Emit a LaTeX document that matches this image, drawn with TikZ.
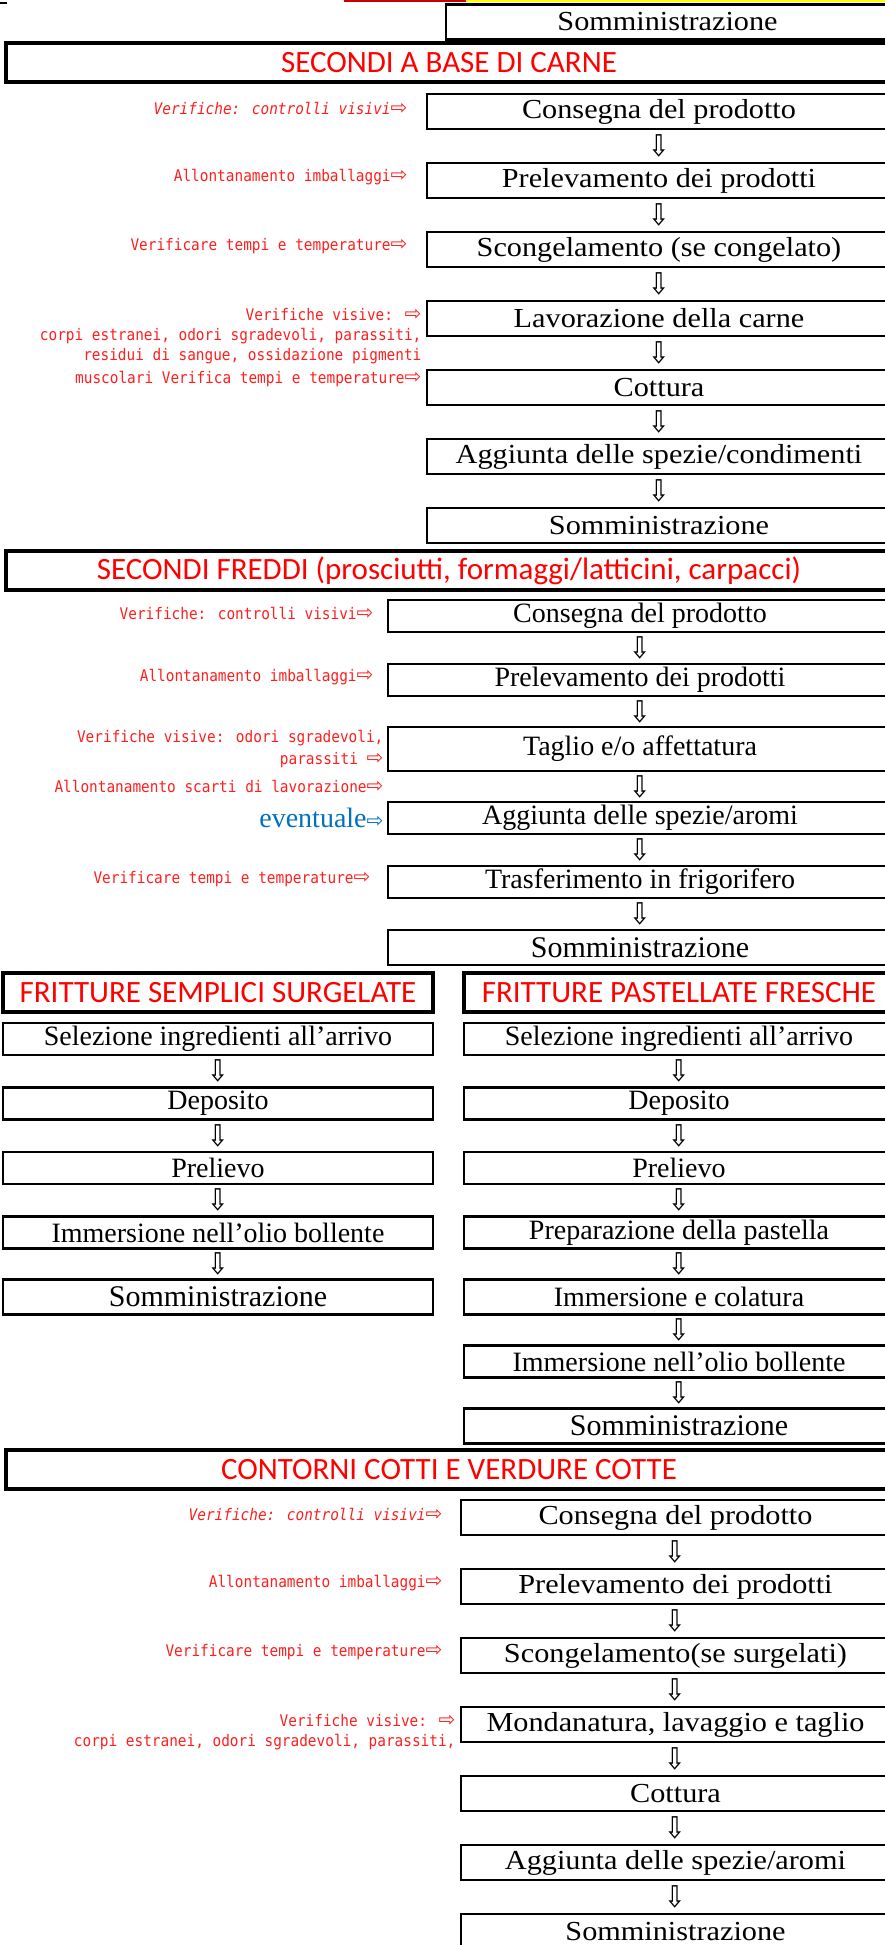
\documentclass[tikz,border=0pt]{standalone}
\usepackage{fontspec}
\setmainfont{Liberation Serif}
\newfontfamily\headfont{Carlito}
\newfontfamily\notefont[FakeStretch=0.9]{DejaVu Sans Mono}
\newfontfamily\symbfont{DejaVu Sans}
\newfontfamily\downfont[FakeStretch=0.85]{DejaVu Sans}
\newfontfamily\widefont[FakeStretch=1.1]{Liberation Serif}
\usetikzlibrary{positioning}

\definecolor{headred}{RGB}{255,0,0}
\definecolor{notered}{RGB}{255,30,30}
\definecolor{noteblue}{RGB}{0,112,192}
\definecolor{barred}{RGB}{200,0,0}
\definecolor{baryellow}{RGB}{255,255,0}

\newcommand{\ra}{{\symbfont\fontsize{20}{20}\selectfont ⇨}}
\newcommand{\da}{{\downfont ⇩}}

\tikzset{
  stepbox/.style={draw, line width=2.8pt, inner sep=0pt, minimum height=35pt,
    font=\widefont\fontsize{27.5}{30}\selectfont},
  stepthin/.style={stepbox, minimum height=32pt, font=\fontsize{28}{30}\selectfont},
  carnestep/.style={stepbox, minimum width=464pt},
  freddostep/.style={stepthin, minimum width=504pt},
  fritstep/.style={stepthin, minimum width=430pt},
  contornostep/.style={stepbox, minimum width=429pt},
  lastthin/.style={minimum height=35pt, font=\fontsize{30}{32}\selectfont},
  headbox/.style={draw, line width=4pt, inner sep=0pt, minimum width=886pt, minimum height=39pt,
    text=headred, font=\headfont\fontsize{31}{33}\selectfont},
  fritbox/.style={headbox, line width=3.2pt, minimum width=430pt},
  note/.style={text=notered, inner sep=0pt, align=right, font=\notefont\fontsize{16}{20}\selectfont},
  noteit/.style={note, font=\notefont\itshape\fontsize{16}{20}\selectfont},
  evnote/.style={text=noteblue, inner sep=0pt, font=\fontsize{28}{30}\selectfont},
  dn/.style={inner sep=0pt, font=\fontsize{30}{30}\selectfont},
}

\begin{document}
\begin{tikzpicture}[x=1pt, y=-1pt, node distance=69pt]
\useasboundingbox (0,0) rectangle (885,1945);
\clip (0,0) rectangle (885,1945);

% top of the page
\draw[line width=2pt] (0,3) -- (7,3);
\draw[barred, line width=2pt] (344,1) -- (466,1);
\draw[baryellow, line width=2pt] (466,1) -- (885,1);
\node[stepbox, minimum width=443pt] (s0) at (667.5,22) {Somministrazione};

% secondi a base di carne
\node[headbox] (carne) at (449,63) {SECONDI A BASE DI CARNE};
\node[carnestep] (c1) at (659,111.5) {Consegna del prodotto};
\node[carnestep, below of=c1] (c2) {Prelevamento dei prodotti};
\node[carnestep, below of=c2] (c3) {Scongelamento (se congelato)};
\node[carnestep, below of=c3] (c4) {Lavorazione della carne};
\node[carnestep, below of=c4] (c5) {Cottura};
\node[carnestep, below of=c5] (c6) {Aggiunta delle spezie/condimenti};
\node[carnestep, below of=c6] (c7) {Somministrazione};

\node[noteit, left=18pt of c1, yshift=3pt] (cn1) {Verifiche: controlli visivi\ra};
\node[note, left=18pt of c2, yshift=3pt] (cn2) {Allontanamento imballaggi\ra};
\node[note, left=18pt of c3, yshift=3pt] (cn3) {Verificare tempi e temperature\ra};
\node[note, anchor=north east] (cn4) at ([shift={(-4pt,10pt)}]c4.west)
  {Verifiche visive: \ra\\corpi estranei, odori sgradevoli, parassiti,\\residui di sangue, ossidazione pigmenti\\[3pt]muscolari Verifica tempi e temperature\ra};

\path (c1.south) -- node[dn] (ca1) {\da} (c2.north)
  (c2.south) -- node[dn] (ca2) {\da} (c3.north)
  (c3.south) -- node[dn] (ca3) {\da} (c4.north)
  (c4.south) -- node[dn] (ca4) {\da} (c5.north)
  (c5.south) -- node[dn] (ca5) {\da} (c6.north)
  (c6.south) -- node[dn] (ca6) {\da} (c7.north);

% secondi freddi
\node[headbox] (freddi) at (449,570.5) {SECONDI FREDDI (prosciutti, formaggi/latticini, carpacci)};
\begin{scope}[node distance=64pt]
\node[freddostep] (f1) at (640,616) {Consegna del prodotto};
\node[freddostep, below of=f1] (f2) {Prelevamento dei prodotti};
\node[freddostep, below of=f2, yshift=-5pt, minimum height=44pt] (f3) {Taglio e/o affettatura};
\node[freddostep, below of=f3, yshift=-5pt] (f4) {Aggiunta delle spezie/aromi};
\node[freddostep, below of=f4] (f5) {Trasferimento in frigorifero};
\node[freddostep, lastthin, below of=f5, yshift=-1.5pt] (f6) {Somministrazione};
\end{scope}

\path (f1.south) -- node[dn] (fa1) {\da} (f2.north)
  (f2.south) -- node[dn] (fa2) {\da} (f3.north)
  (f3.south) -- node[dn] (fa3) {\da} (f4.north)
  (f4.south) -- node[dn] (fa4) {\da} (f5.north)
  (f5.south) -- node[dn] (fa5) {\da} (f6.north);

\node[note, left=13pt of f1, yshift=3pt] (fn1) {Verifiche: controlli visivi\ra};
\node[note, left=13pt of f2, yshift=3pt] (fn2) {Allontanamento imballaggi\ra};
\node[note, left=3pt of f3] (fn3) {Verifiche visive: odori sgradevoli,\\[2pt]parassiti \ra};
\node[note, anchor=east, xshift=-3pt] (fn4) at (f3.west |- fa3) {Allontanamento scarti di lavorazione\ra};
\node[evnote, left=3pt of f4] (fn5) {eventuale\ra};
\node[note, left=16pt of f5, yshift=3pt] (fn6) {Verificare tempi e temperature\ra};

% fritture
\node[fritbox] (semplici) at (218,992.5) {FRITTURE SEMPLICI SURGELATE};
\node[fritbox] (pastellate) at (679,992.5) {FRITTURE PASTELLATE FRESCHE};
\begin{scope}[node distance=64.5pt]
\node[fritstep] (l1) at (218,1039) {Selezione ingredienti all’arrivo};
\node[fritstep, below of=l1] (l2) {Deposito};
\node[fritstep, below of=l2] (l3) {Prelievo};
\node[fritstep, below of=l3] (l4) {Immersione nell’olio bollente};
\node[fritstep, lastthin, below of=l4] (l5) {Somministrazione};

\node[fritstep] (r1) at (679,1039) {Selezione ingredienti all’arrivo};
\node[fritstep, below of=r1] (r2) {Deposito};
\node[fritstep, below of=r2] (r3) {Prelievo};
\node[fritstep, below of=r3] (r4) {Preparazione della pastella};
\node[fritstep, below of=r4, minimum height=35pt] (r5) {Immersione e colatura};
\node[fritstep, below of=r5] (r6) {Immersione nell’olio bollente};
\node[fritstep, lastthin, below of=r6] (r7) {Somministrazione};
\end{scope}

\path (l1.south) -- node[dn] (la1) {\da} (l2.north)
  (l2.south) -- node[dn] (la2) {\da} (l3.north)
  (l3.south) -- node[dn] (la3) {\da} (l4.north)
  (l4.south) -- node[dn] (la4) {\da} (l5.north);
\path (r1.south) -- node[dn] (ra1) {\da} (r2.north)
  (r2.south) -- node[dn] (ra2) {\da} (r3.north)
  (r3.south) -- node[dn] (ra3) {\da} (r4.north)
  (r4.south) -- node[dn] (ra4) {\da} (r5.north)
  (r5.south) -- node[dn] (ra5) {\da} (r6.north)
  (r6.south) -- node[dn] (ra6) {\da} (r7.north);

% contorni cotti
\node[headbox] (contorni) at (449,1469.5) {CONTORNI COTTI E VERDURE COTTE};
\node[contornostep] (k1) at (675.5,1517.5) {Consegna del prodotto};
\node[contornostep, below of=k1] (k2) {Prelevamento dei prodotti};
\node[contornostep, below of=k2] (k3) {Scongelamento(se surgelati)};
\node[contornostep, below of=k3] (k4) {Mondanatura, lavaggio e taglio};
\node[contornostep, below of=k4] (k5) {Cottura};
\node[contornostep, below of=k5] (k6) {Aggiunta delle spezie/aromi};
\node[contornostep, below of=k6] (k7) {Somministrazione};

\node[noteit, left=17pt of k1, yshift=3pt] (kn1) {Verifiche: controlli visivi\ra};
\node[note, left=17pt of k2, yshift=3pt] (kn2) {Allontanamento imballaggi\ra};
\node[note, left=17pt of k3, yshift=3pt] (kn3) {Verificare tempi e temperature\ra};
\node[note, anchor=north east] (kn4) at ([shift={(-4pt,10pt)}]k4.west)
  {Verifiche visive: \ra\\corpi estranei, odori sgradevoli, parassiti,};

\path (k1.south) -- node[dn] (ka1) {\da} (k2.north)
  (k2.south) -- node[dn] (ka2) {\da} (k3.north)
  (k3.south) -- node[dn] (ka3) {\da} (k4.north)
  (k4.south) -- node[dn] (ka4) {\da} (k5.north)
  (k5.south) -- node[dn] (ka5) {\da} (k6.north)
  (k6.south) -- node[dn] (ka6) {\da} (k7.north);
\end{tikzpicture}
\end{document}
